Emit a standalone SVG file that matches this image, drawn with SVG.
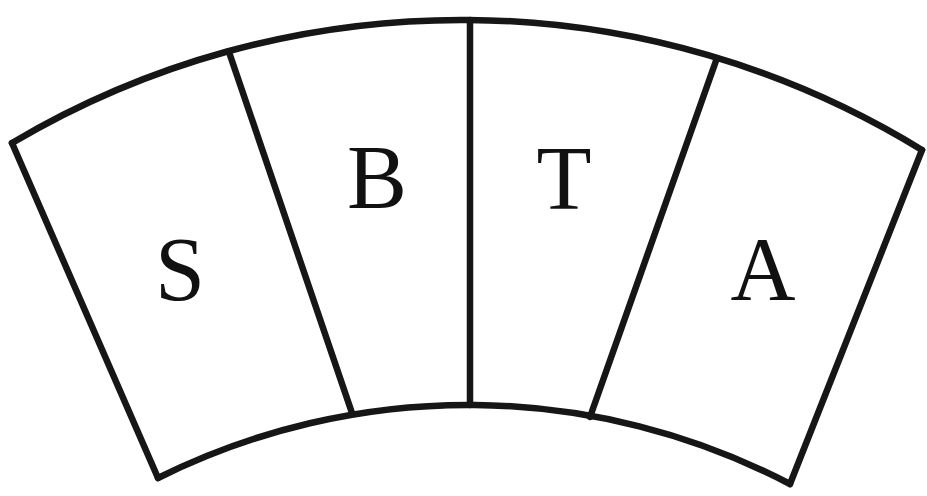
<svg xmlns="http://www.w3.org/2000/svg" width="927" height="496" viewBox="0 0 927 496">
<style>
.ln{fill:none;stroke:#161616;stroke-width:6.5;stroke-linejoin:round;stroke-linecap:round}
.lb{font-family:"Liberation Serif","Times New Roman",serif;font-size:90px;fill:#111;text-anchor:middle}
</style>
<rect width="927" height="496" fill="#ffffff"/>
<g id="connectors">
<path class="ln" d="M12,143 A881,881 0 0 1 922,150"/>
<path class="ln" d="M158,478 A695,695 0 0 1 790,484"/>
<path class="ln" d="M12,143 L158,478"/>
<path class="ln" d="M922,150 L790,484"/>
<path class="ln" d="M230,55 L352,413"/>
<path class="ln" d="M470,20 L470,405"/>
<path class="ln" d="M717,58 L590,417"/>
</g>
<g id="S"><text class="lb" x="180" y="300">S</text></g>
<g id="B"><text class="lb" x="377" y="208">B</text></g>
<g id="T"><text class="lb" x="564" y="209">T</text></g>
<g id="A"><text class="lb" x="763" y="300">A</text></g>
</svg>
